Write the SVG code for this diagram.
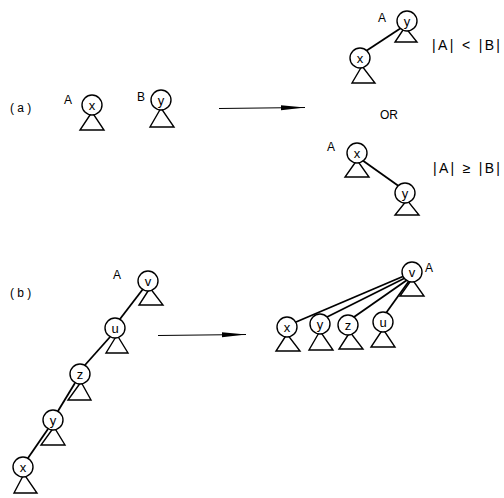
<svg xmlns="http://www.w3.org/2000/svg" width="504" height="498" viewBox="0 0 504 498">
<style>
.n circle{fill:#fff;stroke:#000;stroke-width:1.4}
.n path{fill:#fff;stroke:#000;stroke-width:1.4;stroke-linejoin:miter}
.n text{font-family:"Liberation Sans",Arial,sans-serif;font-size:13px;text-anchor:middle;dominant-baseline:central;fill:#000}
.lbl{font-family:"Liberation Sans",Arial,sans-serif;font-size:12px;fill:#000}
.ineq{font-family:"Liberation Sans",Arial,sans-serif;font-size:14px;fill:#000}
.e line{stroke:#000;stroke-width:1.8}
.ar{stroke:#000;stroke-width:1.2}
</style>
<defs>
<marker id="ah" markerWidth="24" markerHeight="8" refX="24" refY="4" orient="auto" markerUnits="userSpaceOnUse">
<path d="M0,1.5 L24,4 L0,6.5 Z" fill="#000"/>
</marker>
</defs>
<rect width="504" height="498" fill="#fff"/>
<g id="connectors">
<line class="ar" x1="219" y1="108.5" x2="305" y2="107.5" marker-end="url(#ah)"/>
<line class="ar" x1="158" y1="335.5" x2="246" y2="334.5" marker-end="url(#ah)"/>
<g class="e">
<line x1="401" y1="28" x2="366" y2="51"/>
<line x1="362" y1="160" x2="400" y2="187"/>
<line x1="143" y1="289" x2="120" y2="319"/>
<line x1="110" y1="337" x2="85" y2="365"/>
<line x1="75" y1="383" x2="58" y2="411"/>
<line x1="48" y1="429" x2="28" y2="458"/>
<line x1="404" y1="276" x2="296" y2="322"/>
<line x1="405" y1="278" x2="327" y2="317"/>
<line x1="407" y1="280" x2="354" y2="317"/>
<line x1="409" y1="281" x2="386" y2="313"/>
</g>
</g>
<text class="lbl" x="10" y="112">( a )</text>
<text class="lbl" x="10" y="297">( b )</text>
<text class="lbl" x="64" y="104">A</text>
<text class="lbl" x="137" y="101">B</text>
<text class="lbl" x="378" y="22">A</text>
<text class="lbl" x="327" y="151">A</text>
<text class="lbl" x="113" y="279">A</text>
<text class="lbl" x="425" y="272">A</text>
<text class="ineq" x="432" y="50" textLength="68" lengthAdjust="spacing">|A| &lt; |B|</text>
<text class="lbl" x="380" y="119" font-size="13">OR</text>
<text class="ineq" x="433" y="173" textLength="67" lengthAdjust="spacing">|A| ≥ |B|</text>
<g id="a-x" class="n"><path d="M92,112 L80,130 L104,130 Z"/><circle cx="92" cy="105" r="10"/><text x="92" y="105">x</text></g>
<g id="a-y" class="n"><path d="M161,108 L150,127 L174,127 Z"/><circle cx="161" cy="100" r="10"/><text x="161" y="100">y</text></g>
<g id="r1-y" class="n"><path d="M405,27 L395,42 L417,42 Z"/><circle cx="407" cy="21" r="10"/><text x="407" y="21">y</text></g>
<g id="r1-x" class="n"><path d="M362,66 L352,83 L375,83 Z"/><circle cx="360" cy="58" r="10"/><text x="360" y="58">x</text></g>
<g id="r2-x" class="n"><path d="M357,160 L345,177 L369,177 Z"/><circle cx="357" cy="153" r="10"/><text x="357" y="153">x</text></g>
<g id="r2-y" class="n"><path d="M407,200 L395,215 L419,215 Z"/><circle cx="405" cy="193" r="10"/><text x="405" y="193">y</text></g>
<g id="b-v" class="n"><path d="M150,288 L139,305 L163,305 Z"/><circle cx="148" cy="281" r="10"/><text x="148" y="281">v</text></g>
<g id="b-u" class="n"><path d="M117,335 L106,353 L128,353 Z"/><circle cx="115" cy="328" r="10"/><text x="115" y="328">u</text></g>
<g id="b-z" class="n"><path d="M81,382 L68,400 L91,400 Z"/><circle cx="80" cy="374" r="10"/><text x="80" y="374">z</text></g>
<g id="b-y" class="n"><path d="M54,427 L41,445 L65,445 Z"/><circle cx="53" cy="420" r="10"/><text x="53" y="420">y</text></g>
<g id="b-x" class="n"><path d="M24,474 L14,493 L37,493 Z"/><circle cx="23" cy="467" r="10"/><text x="23" y="467">x</text></g>
<g id="c-v" class="n"><path d="M412,279 L400,296 L424,296 Z"/><circle cx="412" cy="272" r="10"/><text x="412" y="272">v</text></g>
<g id="c-x" class="n"><path d="M287,334 L276,351 L300,351 Z"/><circle cx="287" cy="327" r="10"/><text x="287" y="327">x</text></g>
<g id="c-y" class="n"><path d="M320,331 L309,350 L333,350 Z"/><circle cx="320" cy="324" r="10"/><text x="320" y="324">y</text></g>
<g id="c-z" class="n"><path d="M350,332 L339,349 L363,349 Z"/><circle cx="348" cy="325" r="10"/><text x="348" y="325">z</text></g>
<g id="c-u" class="n"><path d="M383,329 L371,347 L395,347 Z"/><circle cx="383" cy="322" r="10"/><text x="383" y="322">u</text></g>
</svg>
